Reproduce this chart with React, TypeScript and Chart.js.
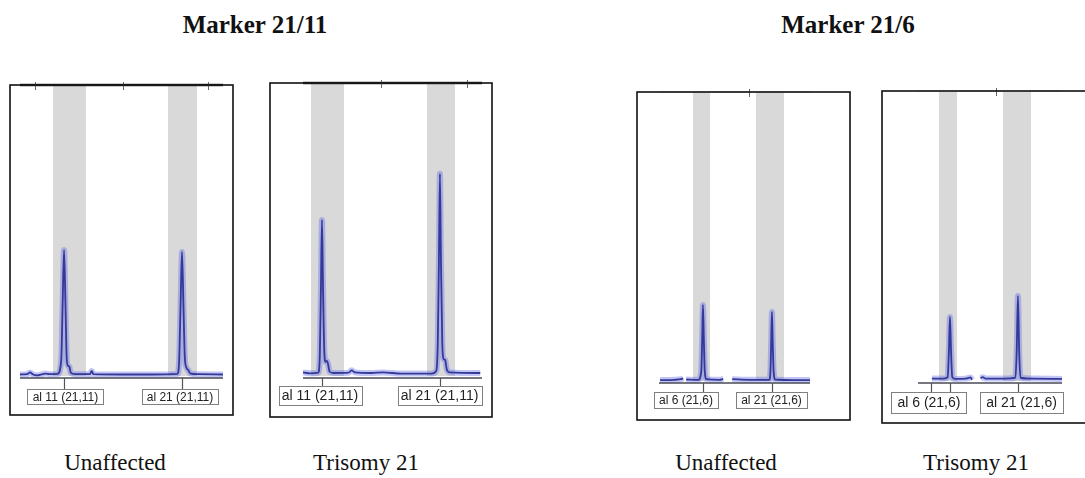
import React, { useEffect, useRef } from 'react';
import { Chart, registerables } from 'chart.js';

Chart.register(...registerables);

// ---------------- DATA ----------------
// x: relative fragment size along each panel's axis (0–100), y: relative fluorescence (0–100)

// Marker 21/11 – Unaffected
const unaffected11Size = [0, 3.5, 4.9, 6.4, 8.5, 10.5, 12.5, 15, 18.5, 20.3, 21.0, 21.7, 22.4, 23.0, 23.6, 24.3, 25.0, 27, 34.5, 35.3, 36.2, 50, 65, 77.5, 78.4, 79.1, 79.8, 80.5, 81.2, 82.0, 82.9, 83.8, 88, 100];
const unaffected11Signal = [1.2, 1.3, 1.9, 1.2, 0.9, 1.2, 1.5, 1.3, 1.4, 6, 25, 43.7, 25, 7, 4.2, 3.9, 1.8, 1.3, 1.3, 2.4, 1.3, 1.2, 1.2, 1.4, 6, 25, 43, 25, 7, 3.5, 2.7, 1.6, 1.3, 1.2];
const unaffected11BinStart = [16.3, 72.9];
const unaffected11BinEnd = [32.5, 87.2];
const unaffected11Alleles = [21.7, 79.8];
const unaffected11LabelPos = [22.4, 78.8];
const unaffected11Labels = ['al 11 (21,11)', 'al 21 (21,11)'];
const unaffected11TopTicks = [7.4, 50.7, 92.6];

// Marker 21/11 – Trisomy 21
const trisomy11Size = [0, 4, 8.5, 9.4, 10.0, 10.6, 11.2, 11.9, 12.6, 13.4, 14.1, 14.8, 17, 25.5, 27.2, 29, 38, 44.7, 55, 72, 74.5, 75.3, 75.9, 76.5, 77.1, 77.8, 78.5, 79.4, 80.3, 82, 99];
const trisomy11Signal = [1.9, 1.6, 1.8, 8, 30, 53.6, 30, 9, 5.5, 5.8, 4.4, 2.2, 1.7, 1.8, 2.6, 1.9, 1.7, 1.9, 1.5, 1.5, 2.5, 12, 38, 69.2, 38, 12, 6.5, 6.1, 3, 1.9, 1.7];
const trisomy11BinStart = [4.5, 69.3];
const trisomy11BinEnd = [22.9, 84.9];
const trisomy11Alleles = [10.6, 76.5];
const trisomy11LabelPos = [9.5, 76.3];
const trisomy11Labels = ['al 11 (21,11)', 'al 21 (21,11)'];
const trisomy11TopTicks = [43.6, 91.6];

// Marker 21/6 – Unaffected
const unaffected6Size = [0.7, 10, 14.5, 16, 17, 18, 26, 28.0, 28.6, 29.1, 29.7, 30.3, 31.5, 40, 42.5, 43.5, 46, 47, 48.5, 60, 73, 73.8, 74.3, 74.8, 75.3, 75.9, 77, 90, 100];
const unaffected6Signal = [1.0, 1.1, 1.3, 1.6, null, 1.2, 1.1, 4, 15, 26.8, 15, 4, 1.3, 1.1, 1.4, null, 0.5, null, 1.3, 1.1, 1.1, 4, 14, 24.4, 14, 4, 1.2, 1.0, 1.0];
const unaffected6BinStart = [22.5, 64.2];
const unaffected6BinEnd = [33.8, 82.8];
const unaffected6Alleles = [29.1, 74.8];
const unaffected6LabelPos = [17.9, 74.5];
const unaffected6Labels = ['al 6 (21,6)', 'al 21 (21,6)'];
const unaffected6TopTicks = [59.6];

// Marker 21/6 – Trisomy 21
const trisomy6Size = [9.7, 18, 20.6, 21.4, 22.2, 23.0, 23.8, 26, 33, 36.5, 37.5, 39, 43.5, 45, 47, 60, 67.6, 68.5, 69.4, 70.3, 71.2, 80, 100];
const trisomy6Signal = [1.5, 1.5, 2, 10, 22.6, 10, 2, 1.4, 1.5, 1.9, 1.1, null, 1.6, 2.0, 1.5, 1.5, 1.8, 10, 29.8, 10, 1.8, 1.5, 1.4];
const trisomy6BinStart = [14.6, 59.0];
const trisomy6BinEnd = [27.1, 78.5];
const trisomy6Alleles = [9.0, 22.2, 69.4];
const trisomy6LabelPos = [7.6, 71.9];
const trisomy6Labels = ['al 6 (21,6)', 'al 21 (21,6)'];
const trisomy6TopTicks = [54.2];

const markerTitles = ['Marker 21/11', 'Marker 21/6'];
const groupCaptions = ['Unaffected', 'Trisomy 21', 'Unaffected', 'Trisomy 21'];

// ---------------- LAYOUT ----------------
const W = 1085;
const H = 478;

type PanelCfg = {
  size: number[];
  signal: (number | null)[];
  binStart: number[];
  binEnd: number[];
  alleles: number[];
  labelPos: number[];
  labels: string[];
  topTicks: number[];
  area: { left: number; right: number; top: number; bottom: number };
  box: { x: number; y: number; w: number; h: number };
  topColor: string;
  topWidth: number;
  labelFont: number;
  labelPad: number;
  labelGap: number;
  labelH: number;
};

const panels: PanelCfg[] = [
  {
    size: unaffected11Size, signal: unaffected11Signal, binStart: unaffected11BinStart, binEnd: unaffected11BinEnd,
    alleles: unaffected11Alleles, labelPos: unaffected11LabelPos, labels: unaffected11Labels, topTicks: unaffected11TopTicks,
    area: { left: 20, right: 223, top: 85, bottom: 378 },
    box: { x: 10, y: 85, w: 223, h: 330 },
    topColor: '#333', topWidth: 2.5, labelFont: 12, labelPad: 5, labelGap: 11, labelH: 15,
  },
  {
    size: trisomy11Size, signal: trisomy11Signal, binStart: trisomy11BinStart, binEnd: trisomy11BinEnd,
    alleles: trisomy11Alleles, labelPos: trisomy11LabelPos, labels: trisomy11Labels, topTicks: trisomy11TopTicks,
    area: { left: 303, right: 482, top: 83, bottom: 378 },
    box: { x: 270, y: 83, w: 222, h: 334 },
    topColor: '#333', topWidth: 2.5, labelFont: 14, labelPad: 3, labelGap: 8, labelH: 19,
  },
  {
    size: unaffected6Size, signal: unaffected6Signal, binStart: unaffected6BinStart, binEnd: unaffected6BinEnd,
    alleles: unaffected6Alleles, labelPos: unaffected6LabelPos, labels: unaffected6Labels, topTicks: unaffected6TopTicks,
    area: { left: 659, right: 810, top: 92, bottom: 383 },
    box: { x: 637, y: 92, w: 213, h: 328 },
    topColor: '#cfcfcf', topWidth: 1, labelFont: 12, labelPad: 5, labelGap: 9, labelH: 16,
  },
  {
    size: trisomy6Size, signal: trisomy6Signal, binStart: trisomy6BinStart, binEnd: trisomy6BinEnd,
    alleles: trisomy6Alleles, labelPos: trisomy6LabelPos, labels: trisomy6Labels, topTicks: trisomy6TopTicks,
    area: { left: 918, right: 1062, top: 91, bottom: 383 },
    box: { x: 882, y: 91, w: 212, h: 332 },
    topColor: '#cfcfcf', topWidth: 1, labelFont: 14, labelPad: 6, labelGap: 9, labelH: 21,
  },
];

function decorPlugin(p: PanelCfg) {
  return {
    id: 'panelDecor',
    beforeDatasetsDraw(chart: any) {
      const { ctx, chartArea: a, scales } = chart;
      const x = scales.x;
      ctx.save();
      ctx.fillStyle = '#d9d9d9';
      p.binStart.forEach((s, i) => {
        const x1 = x.getPixelForValue(s);
        const x2 = x.getPixelForValue(p.binEnd[i]);
        ctx.fillRect(x1, a.top, x2 - x1, a.bottom - a.top - 2);
      });
      ctx.restore();
    },
    afterDatasetsDraw(chart: any) {
      const { ctx, chartArea: a, scales } = chart;
      const x = scales.x;
      ctx.save();
      // top ruler
      ctx.strokeStyle = p.topColor;
      ctx.lineWidth = p.topWidth;
      ctx.beginPath();
      ctx.moveTo(a.left, a.top);
      ctx.lineTo(a.right, a.top);
      ctx.stroke();
      ctx.strokeStyle = '#666';
      ctx.lineWidth = 1;
      p.topTicks.forEach((t) => {
        const px = Math.round(x.getPixelForValue(t)) + 0.5;
        ctx.beginPath();
        ctx.moveTo(px, a.top - 3);
        ctx.lineTo(px, a.top + 5);
        ctx.stroke();
      });
      // bottom axis
      ctx.strokeStyle = '#4a4a55';
      ctx.lineWidth = 1.6;
      ctx.beginPath();
      ctx.moveTo(a.left, a.bottom);
      ctx.lineTo(a.right, a.bottom);
      ctx.stroke();
      ctx.lineWidth = 1.2;
      ctx.strokeStyle = '#555';
      p.alleles.forEach((v) => {
        const px = Math.round(x.getPixelForValue(v)) + 0.5;
        ctx.beginPath();
        ctx.moveTo(px, a.bottom);
        ctx.lineTo(px, a.bottom + p.labelGap);
        ctx.stroke();
      });
      // allele label boxes
      ctx.font = `${p.labelFont}px "Liberation Sans", Arial, sans-serif`;
      ctx.textAlign = 'center';
      ctx.textBaseline = 'middle';
      p.labels.forEach((txt, i) => {
        const cx = x.getPixelForValue(p.labelPos[i]);
        const w = Math.round(ctx.measureText(txt).width + p.labelPad * 2);
        const y0 = a.bottom + p.labelGap;
        const x0 = Math.round(cx - w / 2) + 0.5;
        ctx.fillStyle = '#fff';
        ctx.fillRect(x0, y0 + 0.5, w, p.labelH);
        ctx.strokeStyle = '#808080';
        ctx.lineWidth = 1;
        ctx.strokeRect(x0, Math.round(y0) + 0.5, w, p.labelH);
        ctx.fillStyle = '#222';
        ctx.fillText(txt, cx, y0 + p.labelH / 2 + 1);
      });
      // panel frame
      ctx.strokeStyle = '#111';
      ctx.lineWidth = 1.6;
      ctx.strokeRect(p.box.x, p.box.y, p.box.w, p.box.h);
      ctx.restore();
    },
  };
}

function Panel({ cfg }: { cfg: PanelCfg }) {
  const ref = useRef<HTMLCanvasElement>(null);
  useEffect(() => {
    const pts = cfg.size.map((s, i) => ({ x: s, y: cfg.signal[i] }));
    const chart = new Chart(ref.current as HTMLCanvasElement, {
      type: 'line',
      data: {
        datasets: [
          {
            data: pts as any,
            borderColor: 'rgba(95,105,235,0.38)',
            borderWidth: 6,
            pointRadius: 0,
            cubicInterpolationMode: 'monotone',
            spanGaps: false,
            clip: 10,
          },
          {
            data: pts as any,
            borderColor: '#1a1a66',
            borderWidth: 1.8,
            pointRadius: 0,
            cubicInterpolationMode: 'monotone',
            spanGaps: false,
            clip: 10,
          },
        ],
      },
      options: {
        animation: false,
        responsive: false,
        maintainAspectRatio: false,
        events: [],
        layout: {
          padding: {
            left: cfg.area.left,
            right: W - cfg.area.right,
            top: cfg.area.top,
            bottom: H - cfg.area.bottom,
          },
        },
        scales: {
          x: { type: 'linear', min: 0, max: 100, display: false },
          y: { type: 'linear', min: 0, max: 100, display: false },
        },
        plugins: { legend: { display: false }, tooltip: { enabled: false }, title: { display: false } },
      },
      plugins: [decorPlugin(cfg)],
    });
    return () => chart.destroy();
  }, [cfg]);
  return (
    <canvas
      ref={ref}
      width={W}
      height={H}
      style={{ position: 'absolute', left: 0, top: 0, width: W, height: H }}
    />
  );
}

const serif = '"Liberation Serif", "Times New Roman", Times, serif';

export default function App() {
  const titleCenters = [255, 848];
  const captionCenters = [115, 366, 726, 976];
  return (
    <div style={{ position: 'absolute', left: 0, top: 0, width: W, height: H, background: '#fff', overflow: 'hidden' }}>
      {markerTitles.map((t, i) => (
        <div
          key={t}
          style={{
            position: 'absolute', left: titleCenters[i] - 120, width: 240, top: 12, textAlign: 'center',
            fontFamily: serif, fontWeight: 'bold', fontSize: 25, lineHeight: '25px', color: '#111',
          }}
        >
          {t}
        </div>
      ))}
      {groupCaptions.map((t, i) => (
        <div
          key={i}
          style={{
            position: 'absolute', left: captionCenters[i] - 100, width: 200, top: 451, textAlign: 'center',
            fontFamily: serif, fontSize: 23, lineHeight: '23px', color: '#111',
          }}
        >
          {t}
        </div>
      ))}
      {panels.map((p, i) => (
        <Panel key={i} cfg={p} />
      ))}
    </div>
  );
}
